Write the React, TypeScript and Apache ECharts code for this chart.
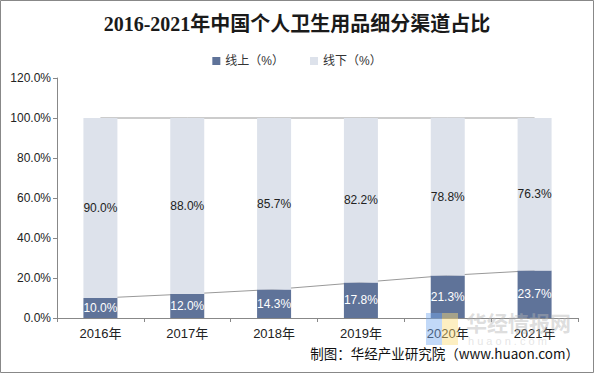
import React, { useEffect, useRef } from "react";
import * as echarts from "echarts";

const categories = ["2016年", "2017年", "2018年", "2019年", "2020年", "2021年"];
const online = [10.0, 12.0, 14.3, 17.8, 21.3, 23.7];
const offline = [90.0, 88.0, 85.7, 82.2, 78.8, 76.3];
const totals = [100, 100, 100, 100, 100, 100];
const seriesNames = ["线上（%）", "线下（%）"];
const titleText = "2016-2021年中国个人卫生用品细分渠道占比";
const sourceText = "制图：华经产业研究院（www.huaon.com）";

const FONT = "'Liberation Sans', 'Noto Sans CJK SC', sans-serif";

export default function App() {
  const ref = useRef<HTMLDivElement>(null);
  useEffect(() => {
    if (!ref.current) return;
    const chart = echarts.init(ref.current, null, { renderer: "svg" });
    chart.setOption({
      animation: false,
      backgroundColor: "#ffffff",
      title: {
        text: titleText,
        left: "center",
        top: 9,
        textStyle: {
          fontFamily: "'Liberation Serif', 'Noto Sans CJK SC', serif",
          fontSize: 20,
          fontWeight: "bold",
          color: "#1a1a1a",
        },
      },
      legend: {
        top: 50,
        left: "center",
        itemWidth: 8,
        itemHeight: 8,
        itemGap: 26,
        icon: "rect",
        data: seriesNames,
        textStyle: { fontFamily: FONT, fontSize: 12, color: "#333" },
      },
      grid: { left: 57, right: 16, top: 78, bottom: 55, containLabel: false },
      xAxis: {
        type: "category",
        data: categories,
        axisLine: { lineStyle: { color: "#888" } },
        axisTick: { show: true, length: 4, lineStyle: { color: "#888" } },
        axisLabel: { fontFamily: FONT, fontSize: 13, color: "#222", margin: 9 },
      },
      yAxis: {
        type: "value",
        min: 0,
        max: 120,
        interval: 20,
        axisLine: { show: true, lineStyle: { color: "#888" } },
        axisTick: { show: true, inside: false, length: 4, lineStyle: { color: "#888" } },
        splitLine: { show: false },
        axisLabel: {
          fontFamily: FONT,
          fontSize: 12,
          color: "#222",
          margin: 6,
          formatter: (v: number) => v.toFixed(1) + "%",
        },
      },
      series: [
        {
          type: "line",
          data: online,
          symbol: "none",
          z: 1,
          lineStyle: { color: "#999", width: 1 },
          silent: true,
        },
        {
          type: "line",
          data: totals,
          symbol: "none",
          z: 1,
          lineStyle: { color: "#999", width: 1 },
          silent: true,
        },
        {
          name: seriesNames[0],
          type: "bar",
          stack: "s",
          data: online,
          barWidth: 34,
          z: 3,
          itemStyle: { color: "#5f7399" },
          label: {
            show: true,
            position: "inside",
            color: "#ffffff",
            fontFamily: FONT,
            fontSize: 12,
            formatter: (p: any) => Number(p.value).toFixed(1) + "%",
          },
        },
        {
          name: seriesNames[1],
          type: "bar",
          stack: "s",
          data: offline,
          barWidth: 34,
          z: 3,
          itemStyle: { color: "#dde2eb" },
          label: {
            show: true,
            position: "inside",
            color: "#222",
            fontFamily: FONT,
            fontSize: 12,
            formatter: (p: any) => Number(p.value).toFixed(1) + "%",
          },
        },
      ],
      graphic: [
        {
          type: "rect",
          shape: { x: 0.5, y: 0.5, width: 593, height: 372 },
          style: { fill: "none", stroke: "#888", lineWidth: 1 },
          z: 100,
        },
        {
          type: "rect",
          shape: { x: 426, y: 313, width: 16, height: 32 },
          style: { fill: "rgba(120,170,240,0.45)" },
          z: 50,
        },
        {
          type: "rect",
          shape: { x: 442, y: 313, width: 16, height: 32 },
          style: { fill: "rgba(250,220,120,0.45)" },
          z: 50,
        },
        {
          type: "text",
          x: 466,
          y: 311,
          style: {
            text: "华经情报网",
            font: "bold 21px 'Noto Sans CJK SC', sans-serif",
            fill: "rgba(180,180,180,0.45)",
          },
          z: 50,
        },
        {
          type: "text",
          x: 468,
          y: 335,
          style: {
            text: "h u a o n . c o m",
            font: "11px 'Liberation Sans', sans-serif",
            fill: "rgba(190,190,190,0.4)",
          },
          z: 50,
        },
        {
          type: "text",
          right: 15,
          top: 346,
          style: {
            text: sourceText,
            font: "13.5px 'Noto Sans CJK SC', 'Liberation Sans', sans-serif",
            fill: "#111",
          },
          z: 60,
        },
      ],
    });
    return () => chart.dispose();
  }, []);
  return (
    <div
      ref={ref}
      style={{ position: "fixed", left: 0, top: 0, width: 594, height: 373 }}
    />
  );
}
